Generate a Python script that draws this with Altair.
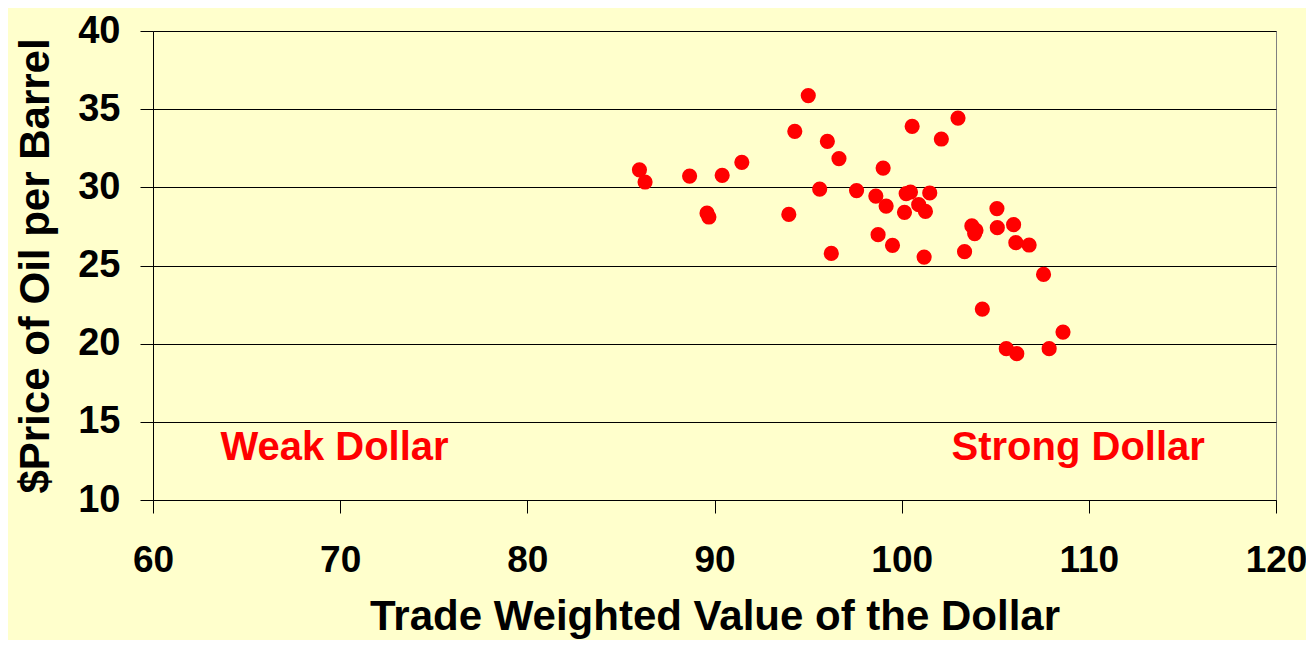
import altair as alt
import pandas as pd

dollar = [85.99, 86.29, 88.67, 89.6, 89.7, 90.41, 91.46, 93.97, 94.29, 95.01,
          95.62, 96.03, 96.24, 96.65, 97.59, 98.62, 98.74, 99.01, 99.17, 99.51,
          100.15, 100.24, 100.47, 100.56, 100.91, 101.2, 101.27, 101.5, 102.12,
          103.01, 105.09, 103.75, 103.97, 103.9, 105.11, 105.98, 106.1, 106.81,
          103.36, 107.58, 104.31, 108.62, 105.59, 106.15, 107.88]
oil = [31.12, 30.34, 30.72, 28.35, 28.1, 30.77, 31.6, 28.27, 33.58, 35.87,
       29.89, 32.94, 25.78, 31.84, 29.79, 29.44, 26.97, 31.23, 28.8, 26.29,
       28.4, 29.6, 29.7, 33.9, 28.89, 25.54, 28.46, 29.64, 33.09,
       34.43, 28.64, 27.53, 27.25, 27.04, 27.42, 27.61, 26.46, 26.31,
       25.89, 24.43, 22.21, 20.74, 19.68, 19.36, 19.68]

label_text = ["Weak Dollar", "Strong Dollar"]
label_x = [63.6, 116.2]
label_y = [13.3, 13.3]
label_align = ["left", "right"]

pts = pd.DataFrame({"dollar": dollar, "oil": oil})
labels = pd.DataFrame({"t": label_text, "x": label_x, "y": label_y, "a": label_align})

FONT = "Liberation Sans"

xscale = alt.Scale(domain=[60, 120], nice=False, zero=False)
yscale = alt.Scale(domain=[10, 40], nice=False, zero=False)

points = alt.Chart(pts).mark_circle(size=230, color="#FF0000", opacity=1).encode(
    x=alt.X("dollar:Q", scale=xscale,
            axis=alt.Axis(title="Trade Weighted Value of the Dollar", values=[60, 70, 80, 90, 100, 110, 120],
                          grid=False, tickSize=13, tickColor="black", domainColor="black",
                          labelFont=FONT, labelFontSize=37, labelFontWeight="bold", labelColor="black",
                          labelPadding=29, titleFont=FONT, titleFontSize=42, titleFontWeight="bold",
                          titleColor="black", titlePadding=18, labelFlush=False)),
    y=alt.Y("oil:Q", scale=yscale,
            axis=alt.Axis(title="$Price of Oil per Barrel", values=[10, 15, 20, 25, 30, 35, 40],
                          grid=True, gridColor="black", gridWidth=1, tickSize=13, tickColor="black",
                          domainColor="black", labelFont=FONT, labelFontSize=38, labelFontWeight="bold",
                          labelColor="black", labelPadding=20, titleFont=FONT, titleFontSize=42,
                          titleFontWeight="bold", titleColor="black", titlePadding=20)),
)

left_lbl = alt.Chart(labels[labels.a == "left"]).mark_text(
    align="left", baseline="middle", font=FONT, fontSize=40, fontWeight="bold", color="#FF0000"
).encode(x=alt.X("x:Q", scale=xscale), y=alt.Y("y:Q", scale=yscale), text="t:N")

right_lbl = alt.Chart(labels[labels.a == "right"]).mark_text(
    align="right", baseline="middle", font=FONT, fontSize=40, fontWeight="bold", color="#FF0000"
).encode(x=alt.X("x:Q", scale=xscale), y=alt.Y("y:Q", scale=yscale), text="t:N")

chart = alt.layer(points, left_lbl, right_lbl).properties(
    width=1123, height=469, background="#FFFFCC",
    autosize=alt.AutoSizeParams(type="none"),
    padding={"left": 145, "top": 23, "right": 30, "bottom": 140},
).configure_view(stroke="#808080", strokeWidth=1)

chart.save("out.html", embed_options={"renderer": "svg", "actions": False})
